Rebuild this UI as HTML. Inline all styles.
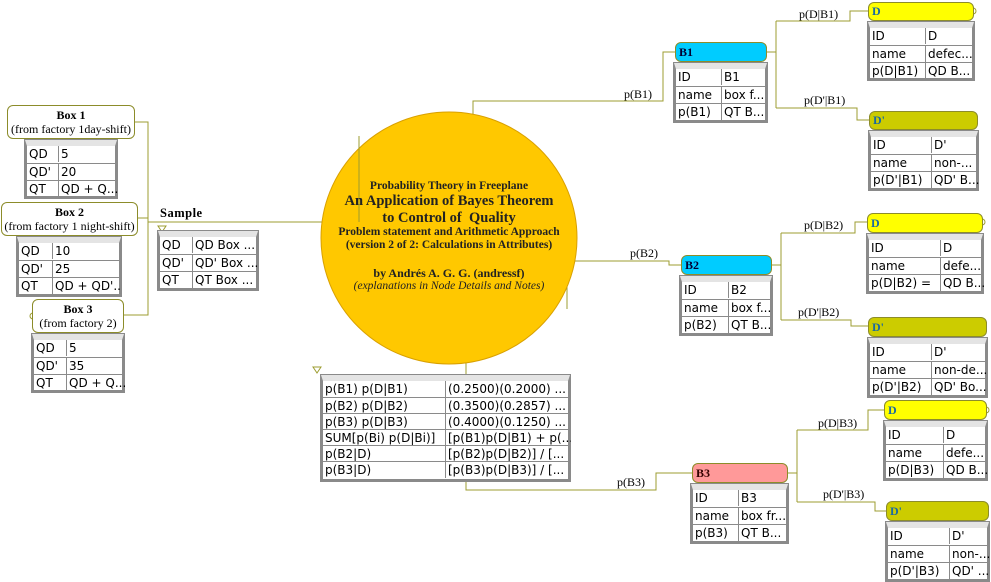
<!DOCTYPE html>
<html><head><meta charset="utf-8">
<style>
body{margin:0;width:991px;height:582px;position:relative;background:#fff;overflow:hidden;font-family:"DejaVu Sans","Liberation Sans",sans-serif;}
.n{position:absolute;box-sizing:border-box;border:1px solid #8c8c2a;border-radius:6px;font-family:"Liberation Serif",serif;font-weight:bold;font-size:12px;}
.t{position:absolute;box-sizing:border-box;border:2px solid #8a8a8a;border-top:6px solid #e4e4e4;background:#fff;font-size:12px;box-shadow:0 0 0 1px #8a8a8a;}
.t div{position:absolute;left:0;right:0;border-top:1px solid #8a8a8a;box-sizing:border-box;}
.t div:first-child{border-top:none}
.t span{position:absolute;top:0;padding-left:2px;white-space:nowrap;overflow:hidden;line-height:16px}
.t span+span{border-left:1px solid #8a8a8a}
.l{position:absolute;font-family:"Liberation Serif",serif;font-size:12px;white-space:nowrap}
.c{position:absolute;left:300px;width:298px;text-align:center;font-family:'Liberation Serif',serif;font-weight:bold;color:#222;white-space:nowrap}
</style></head><body>
<svg width="991" height="582" style="position:absolute;left:0;top:0">
<g fill="none" stroke="#9c9c30" stroke-width="1">
<polyline points="134,122 148,122 148,315 123,315"/>
<polyline points="137,218 148,218"/>
<polyline points="148,222 359,222 359,136"/>
<polyline points="473,115 473,101 663,101 663,52 675,52"/>
<polyline points="567,309 567,261 669,261 669,265 681,265"/>
<polyline points="466,350 466,490 656,490 656,473 692,473"/>
<polyline points="766,52 776,52"/><polyline points="776,21 776,108"/>
<polyline points="776,21 850,21 850,11 868,11"/><polyline points="776,108 857,108 857,120 869,120"/>
<polyline points="771,265 781,265"/><polyline points="781,233 781,320"/>
<polyline points="781,233 855,233 855,222 867,222"/><polyline points="781,320 851,320 851,326 868,326"/>
<polyline points="787,473 797,473"/><polyline points="797,430 797,502"/>
<polyline points="797,430 868,430 868,410 884,410"/><polyline points="797,502 875,502 875,511 886,511"/>
</g>
<ellipse cx="449" cy="238" rx="128" ry="126" fill="#ffc800" stroke="#d9a000"/>
<line x1="359" y1="136" x2="359" y2="222" stroke="#9c9c30"/>
<line x1="466" y1="364" x2="466" y2="490" stroke="#9c9c30"/>
<line x1="567" y1="290" x2="567" y2="309" stroke="#9c9c30"/>
<polygon points="158,226 166,226 162,232" fill="none" stroke="#9c9c30"/>
<polygon points="313,367 321,367 317,373" fill="none" stroke="#9c9c30"/>
<circle cx="33" cy="316" r="3" fill="#fff" stroke="#9c9c30"/>
<circle cx="973" cy="11" r="3" fill="#fff" stroke="#9c9c30"/>
<circle cx="982" cy="222" r="3" fill="#fff" stroke="#9c9c30"/>
<circle cx="986" cy="410" r="3" fill="#fff" stroke="#9c9c30"/>
</svg>

<div class="c" style="top:180px;font-size:11.5px">Probability Theory in Freeplane</div>
<div class="c" style="top:193px;font-size:14.5px">An Application of Bayes Theorem</div>
<div class="c" style="top:210px;font-size:14.5px">to Control of&nbsp; Quality</div>
<div class="c" style="top:226px;font-size:11.5px">Problem statement and Arithmetic Approach</div>
<div class="c" style="top:239px;font-size:11.5px">(version 2 of 2: Calculations in Attributes)</div>
<div class="c" style="top:266px;font-size:12px">by Andrés A. G. G. (andressf)</div>
<div class="c" style="top:280px;font-size:11.5px;font-style:italic;font-weight:normal">(explanations in Node Details and Notes)</div>

<div class="n" style="left:7px;top:105px;width:128px;height:34px;background:#fff;text-align:center;line-height:14px;padding-top:2px">Box 1<br><span style="font-weight:normal">(from factory 1day-shift)</span></div>
<div class="t" style="left:25px;top:140px;width:92px;height:58px"><div style="top:0;height:17px"><span style="left:0;width:31px">QD</span><span style="left:31px;width:57px">5</span></div><div style="top:17px;height:17px"><span style="left:0;width:31px">QD'</span><span style="left:31px;width:57px">20</span></div><div style="top:34px;height:17px"><span style="left:0;width:31px">QT</span><span style="left:31px;width:57px">QD + Q...</span></div></div>

<div class="n" style="left:1px;top:202px;width:137px;height:34px;background:#fff;text-align:center;line-height:14px;padding-top:2px">Box 2<br><span style="font-weight:normal">(from factory 1 night-shift)</span></div>
<div class="t" style="left:17px;top:237px;width:104px;height:59px"><div style="top:0;height:17px"><span style="left:0;width:33px">QD</span><span style="left:33px;width:67px">10</span></div><div style="top:17px;height:17px"><span style="left:0;width:33px">QD'</span><span style="left:33px;width:67px">25</span></div><div style="top:34px;height:17px"><span style="left:0;width:33px">QT</span><span style="left:33px;width:67px">QD + QD'...</span></div></div>

<div class="n" style="left:32px;top:299px;width:92px;height:34px;background:#fff;text-align:center;line-height:14px;padding-top:2px">Box 3<br><span style="font-weight:normal">(from factory 2)</span></div>
<div class="t" style="left:32px;top:334px;width:92px;height:58px"><div style="top:0;height:17px"><span style="left:0;width:32px">QD</span><span style="left:32px;width:56px">5</span></div><div style="top:17px;height:17px"><span style="left:0;width:32px">QD'</span><span style="left:32px;width:56px">35</span></div><div style="top:34px;height:17px"><span style="left:0;width:32px">QT</span><span style="left:32px;width:56px">QD + Q...</span></div></div>

<div class="l" style="left:160px;top:206px;font-weight:bold;font-size:12.5px;letter-spacing:0.5px">Sample</div>
<div class="t" style="left:158px;top:231px;width:100px;height:59px"><div style="top:0;height:17px"><span style="left:0;width:32px">QD</span><span style="left:32px;width:64px">QD Box ...</span></div><div style="top:17px;height:17px"><span style="left:0;width:32px">QD'</span><span style="left:32px;width:64px">QD' Box ...</span></div><div style="top:34px;height:17px"><span style="left:0;width:32px">QT</span><span style="left:32px;width:64px">QT Box ...</span></div></div>

<div class="t" style="left:321px;top:375px;width:249px;height:106px">
<div style="top:0;height:16px"><span style="left:0;width:122px">p(B1) p(D|B1)</span><span style="left:122px;width:123px">(0.2500)(0.2000) ...</span></div>
<div style="top:16px;height:16px"><span style="left:0;width:122px">p(B2) p(D|B2)</span><span style="left:122px;width:123px">(0.3500)(0.2857) ...</span></div>
<div style="top:32px;height:16px"><span style="left:0;width:122px">p(B3) p(D|B3)</span><span style="left:122px;width:123px">(0.4000)(0.1250) ...</span></div>
<div style="top:48px;height:16px"><span style="left:0;width:122px">SUM[p(Bi) p(D|Bi)]</span><span style="left:122px;width:123px">[p(B1)p(D|B1) + p(...</span></div>
<div style="top:64px;height:16px"><span style="left:0;width:122px">p(B2|D)</span><span style="left:122px;width:123px">[p(B2)p(D|B2)] / [...</span></div>
<div style="top:80px;height:16px"><span style="left:0;width:122px">p(B3|D)</span><span style="left:122px;width:123px">[p(B3)p(D|B3)] / [...</span></div>
</div>

<div class="l" style="left:624px;top:87px">p(B1)</div>
<div class="l" style="left:630px;top:246px">p(B2)</div>
<div class="l" style="left:617px;top:475px">p(B3)</div>
<div class="l" style="left:799px;top:7px">p(D|B1)</div>
<div class="l" style="left:804px;top:93px">p(D'|B1)</div>
<div class="l" style="left:804px;top:218px">p(D|B2)</div>
<div class="l" style="left:798px;top:305px">p(D'|B2)</div>
<div class="l" style="left:818px;top:416px">p(D|B3)</div>
<div class="l" style="left:823px;top:487px">p(D'|B3)</div>

<div class="n" style="left:675px;top:42px;width:92px;height:20px;background:#00ccff;padding:2px 3px;color:#003">B1</div>
<div class="t" style="left:674px;top:63px;width:93px;height:59px"><div style="top:0;height:17px"><span style="left:0;width:45px">ID</span><span style="left:45px;width:44px">B1</span></div><div style="top:17px;height:17px"><span style="left:0;width:45px">name</span><span style="left:45px;width:44px">box f...</span></div><div style="top:34px;height:17px"><span style="left:0;width:45px">p(B1)</span><span style="left:45px;width:44px">QT B...</span></div></div>

<div class="n" style="left:868px;top:2px;width:106px;height:19px;background:#ffff00;padding:1px 3px;color:#1a6aa0">D</div>
<div class="t" style="left:868px;top:22px;width:106px;height:58px"><div style="top:0;height:17px"><span style="left:0;width:55px">ID</span><span style="left:55px;width:47px">D</span></div><div style="top:17px;height:17px"><span style="left:0;width:55px">name</span><span style="left:55px;width:47px">defec...</span></div><div style="top:34px;height:17px"><span style="left:0;width:55px">p(D|B1)</span><span style="left:55px;width:47px">QD B...</span></div></div>

<div class="n" style="left:869px;top:111px;width:109px;height:19px;background:#cccc00;padding:1px 3px;color:#1a6aa0">D'</div>
<div class="t" style="left:869px;top:131px;width:109px;height:59px"><div style="top:0;height:17px"><span style="left:0;width:60px">ID</span><span style="left:60px;width:45px">D'</span></div><div style="top:17px;height:17px"><span style="left:0;width:60px">name</span><span style="left:60px;width:45px">non-...</span></div><div style="top:34px;height:17px"><span style="left:0;width:60px">p(D'|B1)</span><span style="left:60px;width:45px">QD' B...</span></div></div>

<div class="n" style="left:681px;top:255px;width:91px;height:20px;background:#00ccff;padding:2px 3px;color:#003">B2</div>
<div class="t" style="left:680px;top:276px;width:92px;height:59px"><div style="top:0;height:17px"><span style="left:0;width:46px">ID</span><span style="left:46px;width:42px">B2</span></div><div style="top:17px;height:17px"><span style="left:0;width:46px">name</span><span style="left:46px;width:42px">box f...</span></div><div style="top:34px;height:17px"><span style="left:0;width:46px">p(B2)</span><span style="left:46px;width:42px">QT B...</span></div></div>

<div class="n" style="left:867px;top:213px;width:116px;height:20px;background:#ffff00;padding:2px 3px;color:#1a6aa0">D</div>
<div class="t" style="left:867px;top:234px;width:116px;height:59px"><div style="top:0;height:17px"><span style="left:0;width:71px">ID</span><span style="left:71px;width:41px">D</span></div><div style="top:17px;height:17px"><span style="left:0;width:71px">name</span><span style="left:71px;width:41px">defe...</span></div><div style="top:34px;height:17px"><span style="left:0;width:71px">p(D|B2) =</span><span style="left:71px;width:41px">QD B...</span></div></div>

<div class="n" style="left:868px;top:317px;width:119px;height:20px;background:#cccc00;padding:2px 3px;color:#1a6aa0">D'</div>
<div class="t" style="left:868px;top:338px;width:119px;height:59px"><div style="top:0;height:17px"><span style="left:0;width:61px">ID</span><span style="left:61px;width:54px">D'</span></div><div style="top:17px;height:17px"><span style="left:0;width:61px">name</span><span style="left:61px;width:54px">non-de...</span></div><div style="top:34px;height:17px"><span style="left:0;width:61px">p(D'|B2)</span><span style="left:61px;width:54px">QD' Bo...</span></div></div>

<div class="n" style="left:692px;top:463px;width:96px;height:20px;background:#ff9999;padding:2px 3px;color:#300">B3</div>
<div class="t" style="left:691px;top:484px;width:97px;height:59px"><div style="top:0;height:17px"><span style="left:0;width:45px">ID</span><span style="left:45px;width:48px">B3</span></div><div style="top:17px;height:17px"><span style="left:0;width:45px">name</span><span style="left:45px;width:48px">box fr...</span></div><div style="top:34px;height:17px"><span style="left:0;width:45px">p(B3)</span><span style="left:45px;width:48px">QT B...</span></div></div>

<div class="n" style="left:884px;top:400px;width:103px;height:20px;background:#ffff00;padding:2px 3px;color:#1a6aa0">D</div>
<div class="t" style="left:884px;top:421px;width:103px;height:59px"><div style="top:0;height:17px"><span style="left:0;width:57px">ID</span><span style="left:57px;width:42px">D</span></div><div style="top:17px;height:17px"><span style="left:0;width:57px">name</span><span style="left:57px;width:42px">defe...</span></div><div style="top:34px;height:17px"><span style="left:0;width:57px">p(D|B3)</span><span style="left:57px;width:42px">QD B...</span></div></div>

<div class="n" style="left:886px;top:501px;width:103px;height:20px;background:#cccc00;padding:2px 3px;color:#1a6aa0">D'</div>
<div class="t" style="left:886px;top:522px;width:103px;height:59px"><div style="top:0;height:17px"><span style="left:0;width:61px">ID</span><span style="left:61px;width:38px">D'</span></div><div style="top:17px;height:17px"><span style="left:0;width:61px">name</span><span style="left:61px;width:38px">non-...</span></div><div style="top:34px;height:17px"><span style="left:0;width:61px">p(D'|B3)</span><span style="left:61px;width:38px">QD' ...</span></div></div>
</body></html>
